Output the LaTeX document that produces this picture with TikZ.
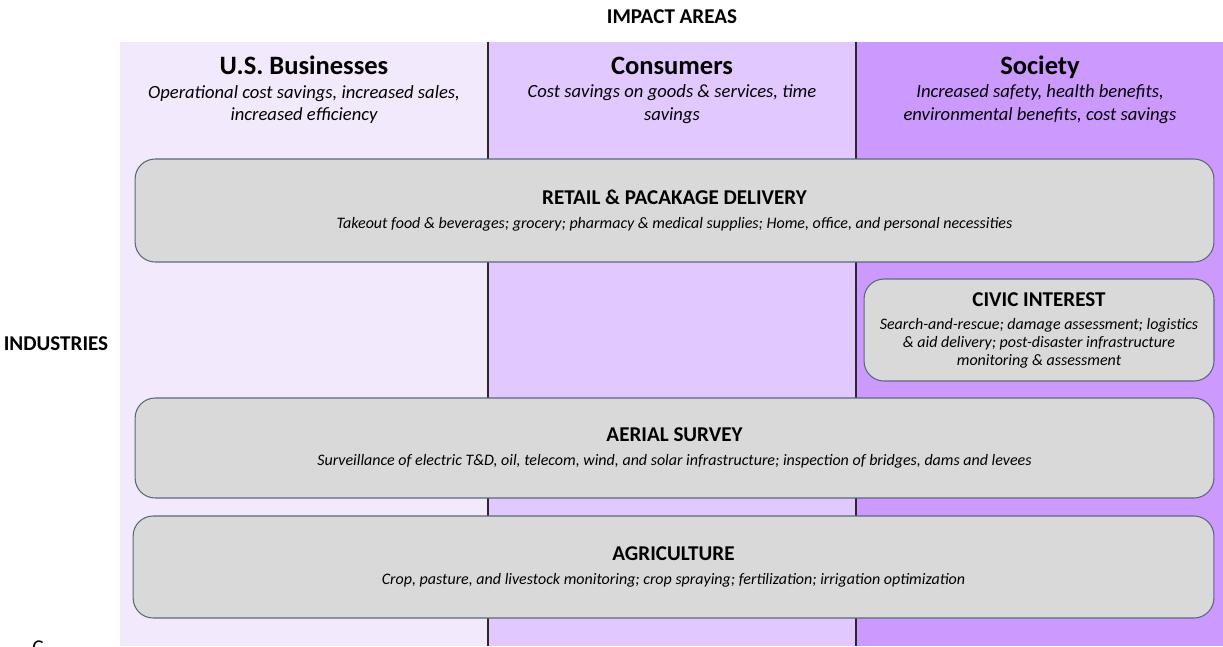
\documentclass[tikz,border=0pt]{standalone}
\usepackage{fontspec}
\setmainfont{Carlito}
\usepackage{tikz}
\usetikzlibrary{positioning}
\definecolor{busifill}{RGB}{242,233,253}
\definecolor{consfill}{RGB}{225,201,255}
\definecolor{socfill}{RGB}{204,153,255}
\definecolor{boxgray}{RGB}{217,217,217}
\definecolor{boxedge}{RGB}{90,104,124}
\definecolor{divline}{RGB}{40,40,40}
\tikzstyle{industry} = [rectangle, rounded corners=0.4cm, draw=boxedge, fill=boxgray, line width=0.6pt, align=center, inner sep=0pt, font=\fontsize{9.1}{10.2}\selectfont\itshape]
\tikzstyle{heading} = [font=\fontsize{12}{14}\selectfont\bfseries, inner sep=0pt]
\tikzstyle{colhead} = [font=\fontsize{15.1}{18}\selectfont\bfseries, inner sep=0pt, text height=11pt, text depth=3.5pt]
\tikzstyle{coltext} = [font=\fontsize{10.6}{13}\selectfont\itshape, align=center, inner sep=0pt]
\tikzstyle{divider} = [line width=0.9pt, color=divline]
\newcommand{\boxtitle}[1]{{\fontsize{12}{14}\selectfont\bfseries\upshape #1}}

\begin{document}
\begin{tikzpicture}[x=0.02cm, y=-0.02cm]
\useasboundingbox (0,0) rectangle (1223,646);
% impact area columns
\fill[busifill] (120,42) rectangle (488,646);
\fill[consfill] (488,42) rectangle (856,646);
\fill[socfill] (856,42) rectangle (1223,646);
\draw[divider] (488,42) -- (488,646);
\draw[divider] (856,42) -- (856,646);

\node[heading] (impact) at (672,17) {IMPACT AREAS};
\node[heading] (ind) at (56,344) {INDUSTRIES};
\node[anchor=north, inner sep=0pt, font=\fontsize{12}{14}\selectfont] (src) at (38,640) {C};

% column headers
\node[colhead] (busi) at (304,68) {U.S. Businesses};
\node[colhead] (cons) at (672,68) {Consumers};
\node[colhead] (soc) at (1040,68) {Society};
\node[coltext] (busitext) at (304,104.5) {Operational cost savings, increased sales,\\increased efficiency};
\node[coltext] (constext) at (672,104.5) {Cost savings on goods \& services, time\\savings};
\node[coltext] (soctext) at (1040,104.5) {Increased safety, health benefits,\\environmental benefits, cost savings};

% industries
\node[industry, minimum width=21.58cm, minimum height=2.06cm] (retail) at (674.5,210.5) {\boxtitle{RETAIL \& PACAKAGE DELIVERY}\\[3pt]Takeout food \& beverages; grocery; pharmacy \& medical supplies; Home, office, and personal necessities};
\node[industry, minimum width=7cm, minimum height=2.04cm] (civic) at (1039,330) {\boxtitle{CIVIC INTEREST}\\[3pt]Search-and-rescue; damage assessment; logistics\\\& aid delivery; post-disaster infrastructure\\monitoring \& assessment};
\node[industry, minimum width=21.58cm, minimum height=2cm] (aerial) at (674.5,448) {\boxtitle{AERIAL SURVEY}\\[3pt]Surveillance of electric T\&D, oil, telecom, wind, and solar infrastructure; inspection of bridges, dams and levees};
\node[industry, minimum width=21.62cm, minimum height=2.04cm] (agri) at (673.5,567) {\boxtitle{AGRICULTURE}\\[3pt]Crop, pasture, and livestock monitoring; crop spraying; fertilization; irrigation optimization};
\end{tikzpicture}
\end{document}
